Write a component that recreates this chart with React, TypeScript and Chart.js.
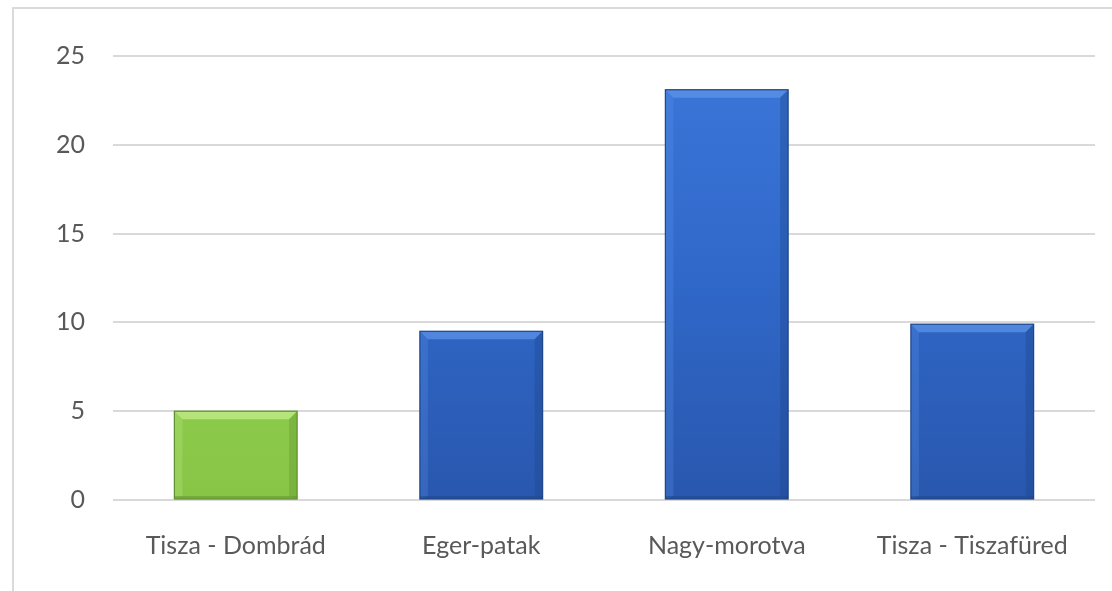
import React, { useEffect, useRef } from "react";
import { Chart, registerables } from "chart.js";

Chart.register(...registerables);

const categories = ["Tisza - Dombrád", "Eger-patak", "Nagy-morotva", "Tisza - Tiszafüred"];
const values = [5, 9.5, 23.1, 9.9];
const yTicks = [0, 5, 10, 15, 20, 25];
const barKinds = ["green", "blue", "blue", "blue"];

const palette: Record<string, { top: string; mid: string; bot: string; edge: string; hi: string }> = {
  green: { top: "#a2dc60", mid: "#93d152", bot: "#88c547", edge: "#5f8f2e", hi: "#c4f08e" },
  blue: { top: "#3b77d9", mid: "#3068c9", bot: "#2957ae", edge: "#1d4588", hi: "#6096ea" },
};

const bevelPlugin = {
  id: "bevel",
  afterDatasetsDraw(chart: any) {
    const ctx = chart.ctx;
    const meta = chart.getDatasetMeta(0);
    meta.data.forEach((bar: any, i: number) => {
      const p = palette[barKinds[i]];
      const left = bar.x - bar.width / 2;
      const right = bar.x + bar.width / 2;
      const top = bar.y;
      const bottom = bar.base;
      const b = 8;
      ctx.save();
      ctx.fillStyle = p.hi;
      ctx.globalAlpha = 0.7;
      ctx.beginPath();
      ctx.moveTo(left, top);
      ctx.lineTo(right, top);
      ctx.lineTo(right - b, top + b);
      ctx.lineTo(left + b, top + b);
      ctx.closePath();
      ctx.fill();
      ctx.globalAlpha = 0.25;
      ctx.fillStyle = p.hi;
      ctx.beginPath();
      ctx.moveTo(left, top);
      ctx.lineTo(left + b, top + b);
      ctx.lineTo(left + b, bottom - 3);
      ctx.lineTo(left, bottom);
      ctx.closePath();
      ctx.fill();
      ctx.globalAlpha = 0.35;
      ctx.fillStyle = p.edge;
      ctx.beginPath();
      ctx.moveTo(right, top);
      ctx.lineTo(right - b, top + b);
      ctx.lineTo(right - b, bottom - 3);
      ctx.lineTo(right, bottom);
      ctx.closePath();
      ctx.fill();
      ctx.globalAlpha = 0.5;
      ctx.fillStyle = p.edge;
      ctx.fillRect(left, bottom - 3, right - left, 3);
      ctx.globalAlpha = 1;
      ctx.strokeStyle = p.edge;
      ctx.lineWidth = 1.2;
      ctx.strokeRect(left, top, right - left, bottom - top);
      ctx.restore();
    });
  },
};

export default function App() {
  const ref = useRef<HTMLCanvasElement>(null);
  useEffect(() => {
    if (!ref.current) return;
    const chart = new Chart(ref.current, {
      type: "bar",
      data: {
        labels: categories,
        datasets: [
          {
            data: values,
            backgroundColor: (c: any) => {
              const p = palette[barKinds[c.dataIndex]];
              const area = c.chart.chartArea;
              if (!area) return p.mid;
              const g = c.chart.ctx.createLinearGradient(0, area.top, 0, area.bottom);
              g.addColorStop(0, p.top);
              g.addColorStop(0.5, p.mid);
              g.addColorStop(1, p.bot);
              return g;
            },
            borderWidth: 0,
            categoryPercentage: 0.5,
            barPercentage: 1,
          },
        ],
      },
      options: {
        animation: false,
        responsive: false,
        devicePixelRatio: 1,
        layout: { padding: { top: 56, right: 17, left: 0, bottom: 0 } },
        plugins: { legend: { display: false }, tooltip: { enabled: false } },
        scales: {
          x: {
            grid: { display: false },
            border: { display: false },
            ticks: {
              color: "#595959",
              font: { family: "Lato", size: 25 },
              padding: 23,
              maxRotation: 0,
              autoSkip: false,
            },
            afterFit: (s: any) => {
              s.height = 91;
            },
          },
          y: {
            min: 0,
            max: 25,
            afterBuildTicks: (s: any) => {
              s.ticks = yTicks.map((v) => ({ value: v }));
            },
            grid: { color: "#d9d9d9", lineWidth: 2, drawTicks: false },
            border: { display: false },
            ticks: {
              color: "#595959",
              font: { family: "Lato", size: 25 },
              padding: 28,
            },
            afterFit: (s: any) => {
              s.width = 113;
            },
          },
        },
      },
      plugins: [bevelPlugin],
    });
    return () => chart.destroy();
  }, []);
  return (
    <div style={{ position: "fixed", left: 0, top: 0, width: 1112, height: 591, background: "#fff", overflow: "hidden" }}>
      <div
        style={{
          position: "absolute",
          left: 12,
          top: 7,
          width: 1200,
          height: 700,
          borderTop: "2px solid #dadada",
          borderLeft: "2px solid #dadada",
        }}
      />
      <canvas ref={ref} width={1112} height={591} style={{ position: "absolute", left: 0, top: 0 }} />
    </div>
  );
}
